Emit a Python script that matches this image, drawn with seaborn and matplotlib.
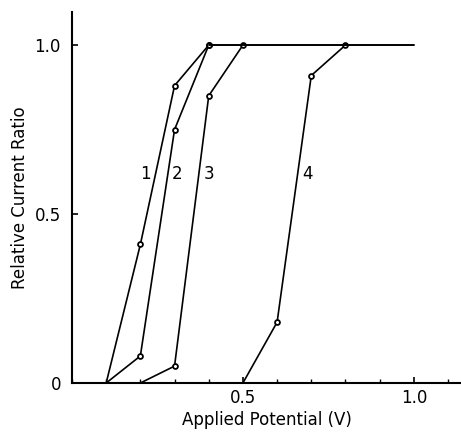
import matplotlib
matplotlib.use("Agg")
import matplotlib.pyplot as plt
from matplotlib.ticker import MultipleLocator, FixedLocator
import seaborn as sns

# curves
x1 = [0.1, 0.2, 0.3, 0.4]
y1 = [0.0, 0.41, 0.88, 1.0]
x2 = [0.1, 0.2, 0.3, 0.4]
y2 = [0.0, 0.08, 0.75, 1.0]
x3 = [0.2, 0.3, 0.4, 0.5]
y3 = [0.0, 0.05, 0.85, 1.0]
x4 = [0.5, 0.6, 0.7, 0.8]
y4 = [0.0, 0.18, 0.91, 1.0]
plateau_x = [0.4, 1.0]
plateau_y = [1.0, 1.0]

curve_labels = ["1", "2", "3", "4"]
label_x = [0.215, 0.307, 0.40, 0.69]
label_y = [0.62, 0.62, 0.62, 0.62]

sns.set_style("ticks", {"text.color": "black", "axes.labelcolor": "black",
                        "xtick.color": "black", "ytick.color": "black",
                        "axes.edgecolor": "black"})
plt.rcParams['font.family'] = ['DejaVu Sans']

fig = plt.figure(figsize=(4.61, 4.33), dpi=100)
ax = fig.add_axes([72 / 461, 50 / 433, 389 / 461, 371 / 433])

for xs, ys in [(x1, y1), (x2, y2), (x3, y3), (x4, y4)]:
    sns.lineplot(x=xs, y=ys, ax=ax, color="black", lw=1.2, marker="o",
                 markersize=3.5, markerfacecolor="white", markeredgecolor="black",
                 markeredgewidth=1.3, markevery=[1, 2, 3])
sns.lineplot(x=plateau_x, y=plateau_y, ax=ax, color="black", lw=1.4)

for t, lx, ly in zip(curve_labels, label_x, label_y):
    ax.text(lx, ly, t, fontsize=12, ha="center", va="center", color="black")

ax.set_xlim(0, 1.138)
ax.set_ylim(0, 1.098)
ax.xaxis.set_major_locator(FixedLocator([0.5, 1.0]))
ax.xaxis.set_minor_locator(MultipleLocator(0.1))
ax.set_xticklabels(["0.5", "1.0"])
ax.yaxis.set_major_locator(FixedLocator([0, 0.5, 1.0]))
ax.set_yticklabels(["0", "0.5", "1.0"])
ax.tick_params(axis="both", which="major", direction="in", length=4, width=1.2,
               labelsize=12)
ax.tick_params(axis="x", which="major", pad=4)
ax.tick_params(axis="y", which="major", pad=8)
ax.tick_params(axis="x", which="minor", direction="in", length=3, width=1.0)
for s in ["top", "right"]:
    ax.spines[s].set_visible(False)
for s in ["left", "bottom"]:
    ax.spines[s].set_linewidth(1.5)

ax.set_xlabel("Applied Potential (V)", fontsize=12, labelpad=3)
ax.set_ylabel("Relative Current Ratio", fontsize=12, labelpad=4)

fig.savefig("out.png", dpi=100)
